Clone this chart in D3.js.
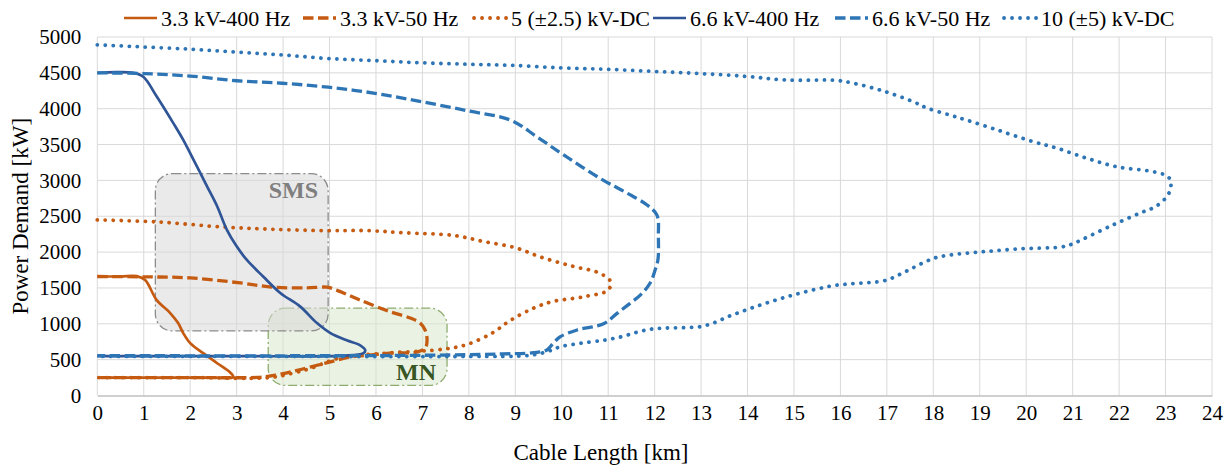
<!DOCTYPE html>
<html>
<head>
<meta charset="utf-8">
<script src="https://cdn.jsdelivr.net/npm/d3@7"></script>
<style>
  body { margin: 0; background: #fff; }
  svg { display: block; }
  svg text { font-family: "Liberation Serif", "Times New Roman", serif; }
</style>
</head>
<body>
<svg id="chart" width="1227" height="466"></svg>
<script>
// values, [km, kW]
const kv33_400 = [[0,1660],[0.5,1660],[0.85,1665],[1.03,1610],[1.28,1330],[1.57,1150],[1.74,1010],[1.85,870],[2.0,730],[2.28,590],[2.58,450],[2.86,320],[2.93,255],[2.5,250],[1.5,250],[0,250]];
const kv33_50 = [[0,1660],[1,1655],[2,1640],[3.08,1570],[3.79,1510],[4.5,1500],[4.95,1510],[5.15,1470],[5.66,1330],[6.3,1170],[6.74,1080],[6.95,1010],[7.06,910],[7.1,770],[7.06,660],[6.88,605],[6.3,590],[5.8,560],[5.45,537],[5.0,466],[4.58,396],[4.15,326],[3.8,280],[3.44,252],[2.5,250],[1,250],[0,250]];
const kv5dc = [[0,2450],[1.3,2420],[2.7,2350],[3.7,2320],[4.9,2300],[5.8,2300],[6.6,2270],[7.7,2230],[8.3,2150],[9,2060],[9.6,1920],[10.25,1800],[10.8,1710],[11.05,1590],[11.0,1470],[10.5,1380],[9.8,1310],[9.4,1220],[8.9,1050],[8.5,870],[8.0,720],[7.7,670],[7.2,630],[6.2,590],[5.2,520],[4.6,380],[4.2,310],[3.7,250],[2,250],[0,250]];
const kv66_400 = [[0,4500],[0.4,4510],[0.78,4500],[0.99,4445],[1.28,4170],[1.64,3795],[1.85,3565],[2.07,3290],[2.36,2920],[2.58,2640],[2.79,2310],[3.0,2080],[3.22,1890],[3.57,1660],[3.94,1430],[4.37,1240],[4.73,1010],[5.02,870],[5.37,770],[5.66,700],[5.77,630],[5.73,590],[5.3,555],[3,550],[0,550]];
const kv66_50 = [[0,4500],[1,4490],[2,4455],[3,4390],[3.98,4355],[4.97,4300],[5.98,4215],[6.97,4100],[7.98,3970],[8.9,3840],[9.46,3610],[10.04,3355],[10.9,3000],[11.4,2825],[11.83,2660],[12.05,2515],[12.08,2215],[12.07,1890],[12.01,1750],[11.9,1565],[11.69,1400],[11.47,1285],[11.19,1145],[10.9,1000],[10.33,914],[9.97,820],[9.82,732],[9.68,635],[9.39,597],[8.67,579],[7.6,565],[5,555],[0,555]];
const kv10dc = [[0,4890],[0.85,4865],[2,4830],[3,4790],[3.98,4750],[4.97,4700],[5.98,4670],[6.97,4640],[7.98,4620],[8.9,4605],[9.97,4570],[10.97,4550],[11.97,4520],[12.98,4490],[13.98,4450],[14.84,4400],[15.92,4395],[16.28,4355],[16.93,4245],[17.56,4100],[17.86,4010],[18.36,3910],[18.72,3840],[19.37,3705],[20.15,3540],[20.66,3450],[21.3,3310],[21.95,3190],[22.66,3130],[22.99,3075],[23.11,3005],[23.11,2905],[23.05,2795],[22.81,2645],[22.45,2545],[21.87,2380],[21.22,2180],[20.94,2100],[20.73,2070],[19.87,2045],[19.07,2005],[18.36,1960],[18.04,1920],[17.86,1875],[17.56,1780],[17.25,1680],[16.94,1600],[16.28,1560],[15.92,1540],[15.56,1495],[14.92,1390],[14.27,1260],[13.62,1110],[13.3,1020],[12.98,960],[12.26,941],[11.93,927],[11.61,880],[11.29,820],[10.93,774],[10.4,728],[9.97,680],[9.68,610],[9.3,560],[8,545],[4,545],[0,545]];

const seriesNames = ["3.3 kV-400 Hz", "3.3 kV-50 Hz", "5 (\u00b12.5) kV-DC", "6.6 kV-400 Hz", "6.6 kV-50 Hz", "10 (\u00b15) kV-DC"];
const xTicks = d3.range(0, 25, 1);
const yTicks = d3.range(0, 5001, 500);

// annotation regions [x0, x1, y0, y1] in km / kW
const smsRegion = [1.25, 4.97, 900, 3095];
const mnRegion = [3.68, 7.53, 140, 1218];

const series = [
  { name: seriesNames[0], data: kv33_400, color: "#C55A11", style: "solid" },
  { name: seriesNames[1], data: kv33_50, color: "#C55A11", style: "dash" },
  { name: seriesNames[2], data: kv5dc, color: "#C55A11", style: "dot" },
  { name: seriesNames[3], data: kv66_400, color: "#2F5597", style: "solid" },
  { name: seriesNames[4], data: kv66_50, color: "#2E75B6", style: "dash" },
  { name: seriesNames[5], data: kv10dc, color: "#2E75B6", style: "dot" }
];

const margin = { top: 37, right: 15, bottom: 70.5, left: 97.3 };
const width = 1227, height = 466;

const svg = d3.select("#chart");

const x = d3.scaleLinear().domain([0, 24]).range([margin.left, width - margin.right]);
const y = d3.scaleLinear().domain([0, 5000]).range([height - margin.bottom, margin.top]);

function applyStyle(sel, s) {
  sel.attr("stroke", s.color).attr("fill", "none");
  if (s.style === "solid") sel.attr("stroke-width", 2.7);
  if (s.style === "dash") sel.attr("stroke-width", 3.3).attr("stroke-dasharray", "10.5,4.5");
  if (s.style === "dot") sel.attr("stroke-width", 3.8).attr("stroke-linecap", "round").attr("stroke-dasharray", "0.1,7.9");
  return sel;
}

// grid
svg.append("g")
  .selectAll("line")
  .data(xTicks)
  .join("line")
  .attr("x1", d => x(d)).attr("x2", d => x(d))
  .attr("y1", y(0)).attr("y2", y(5000))
  .attr("stroke", "#d9d9d9").attr("stroke-width", 1);

svg.append("g")
  .selectAll("line")
  .data(yTicks.filter(d => d > 0))
  .join("line")
  .attr("x1", x(0)).attr("x2", x(24))
  .attr("y1", d => y(d)).attr("y2", d => y(d))
  .attr("stroke", "#d9d9d9").attr("stroke-width", 1);

// axes (labels only)
const xAxis = svg.append("g")
  .attr("transform", "translate(0," + y(0) + ")")
  .call(d3.axisBottom(x).tickValues(xTicks).tickSize(0).tickPadding(10).tickFormat(d3.format("d")));
xAxis.select(".domain").attr("stroke", "#bfbfbf").attr("stroke-width", 1.3);

const yAxis = svg.append("g")
  .attr("transform", "translate(" + x(0) + ",0)")
  .call(d3.axisLeft(y).tickValues(yTicks).tickSize(0).tickPadding(16).tickFormat(d3.format("d")));
yAxis.select(".domain").remove();

svg.selectAll(".tick text")
  .style("font-size", "21px")
  .attr("fill", "#000");

// annotation boxes
function region(r, fill, stroke) {
  svg.append("rect")
    .attr("x", x(r[0])).attr("y", y(r[3]))
    .attr("width", x(r[1]) - x(r[0])).attr("height", y(r[2]) - y(r[3]))
    .attr("rx", 17).attr("ry", 17)
    .attr("fill", fill).attr("fill-opacity", 0.55)
    .attr("stroke", stroke).attr("stroke-width", 1.3)
    .attr("stroke-dasharray", "9,3,2,3");
}
region(mnRegion, "#d8e7cc", "#8fac6f");
region(smsRegion, "#d9d9d9", "#8c8c8c");

// lines
const line = d3.line()
  .x(d => x(d[0]))
  .y(d => y(d[1]))
  .curve(d3.curveCatmullRom.alpha(0.5));

series.forEach(s => {
  svg.append("path")
    .datum(s.data)
    .attr("d", line)
    .call(applyStyle, s);
});

// box labels
svg.append("text")
  .attr("x", x(smsRegion[1]) - 10).attr("y", y(smsRegion[3]) + 24)
  .attr("text-anchor", "end")
  .style("font-size", "24px").attr("font-weight", "bold")
  .attr("fill", "#7f7f7f")
  .text("SMS");

svg.append("text")
  .attr("x", x(mnRegion[1]) - 11).attr("y", y(mnRegion[2]) - 5)
  .attr("text-anchor", "end")
  .style("font-size", "24px").attr("font-weight", "bold")
  .attr("fill", "#375623")
  .text("MN");

// axis titles
svg.append("text")
  .attr("x", 601).attr("y", 460)
  .attr("text-anchor", "middle")
  .style("font-size", "23px")
  .text("Cable Length [km]");

svg.append("text")
  .attr("transform", "translate(28," + ((y(0) + y(5000)) / 2) + ") rotate(-90)")
  .attr("text-anchor", "middle")
  .style("font-size", "23px")
  .text("Power Demand [kW]");

// legend
const legendX = [124, 303, 474, 653, 835, 1004];
const legend = svg.append("g");
series.forEach((s, i) => {
  const g = legend.append("g").attr("transform", "translate(" + legendX[i] + ",18)");
  g.append("line")
    .attr("x1", 0).attr("x2", 33).attr("y1", 0).attr("y2", 0)
    .call(applyStyle, s);
  g.append("text")
    .attr("x", 37).attr("y", 0)
    .attr("dy", "0.35em")
    .style("font-size", "22px")
    .text(s.name);
});
</script>
</body>
</html>
